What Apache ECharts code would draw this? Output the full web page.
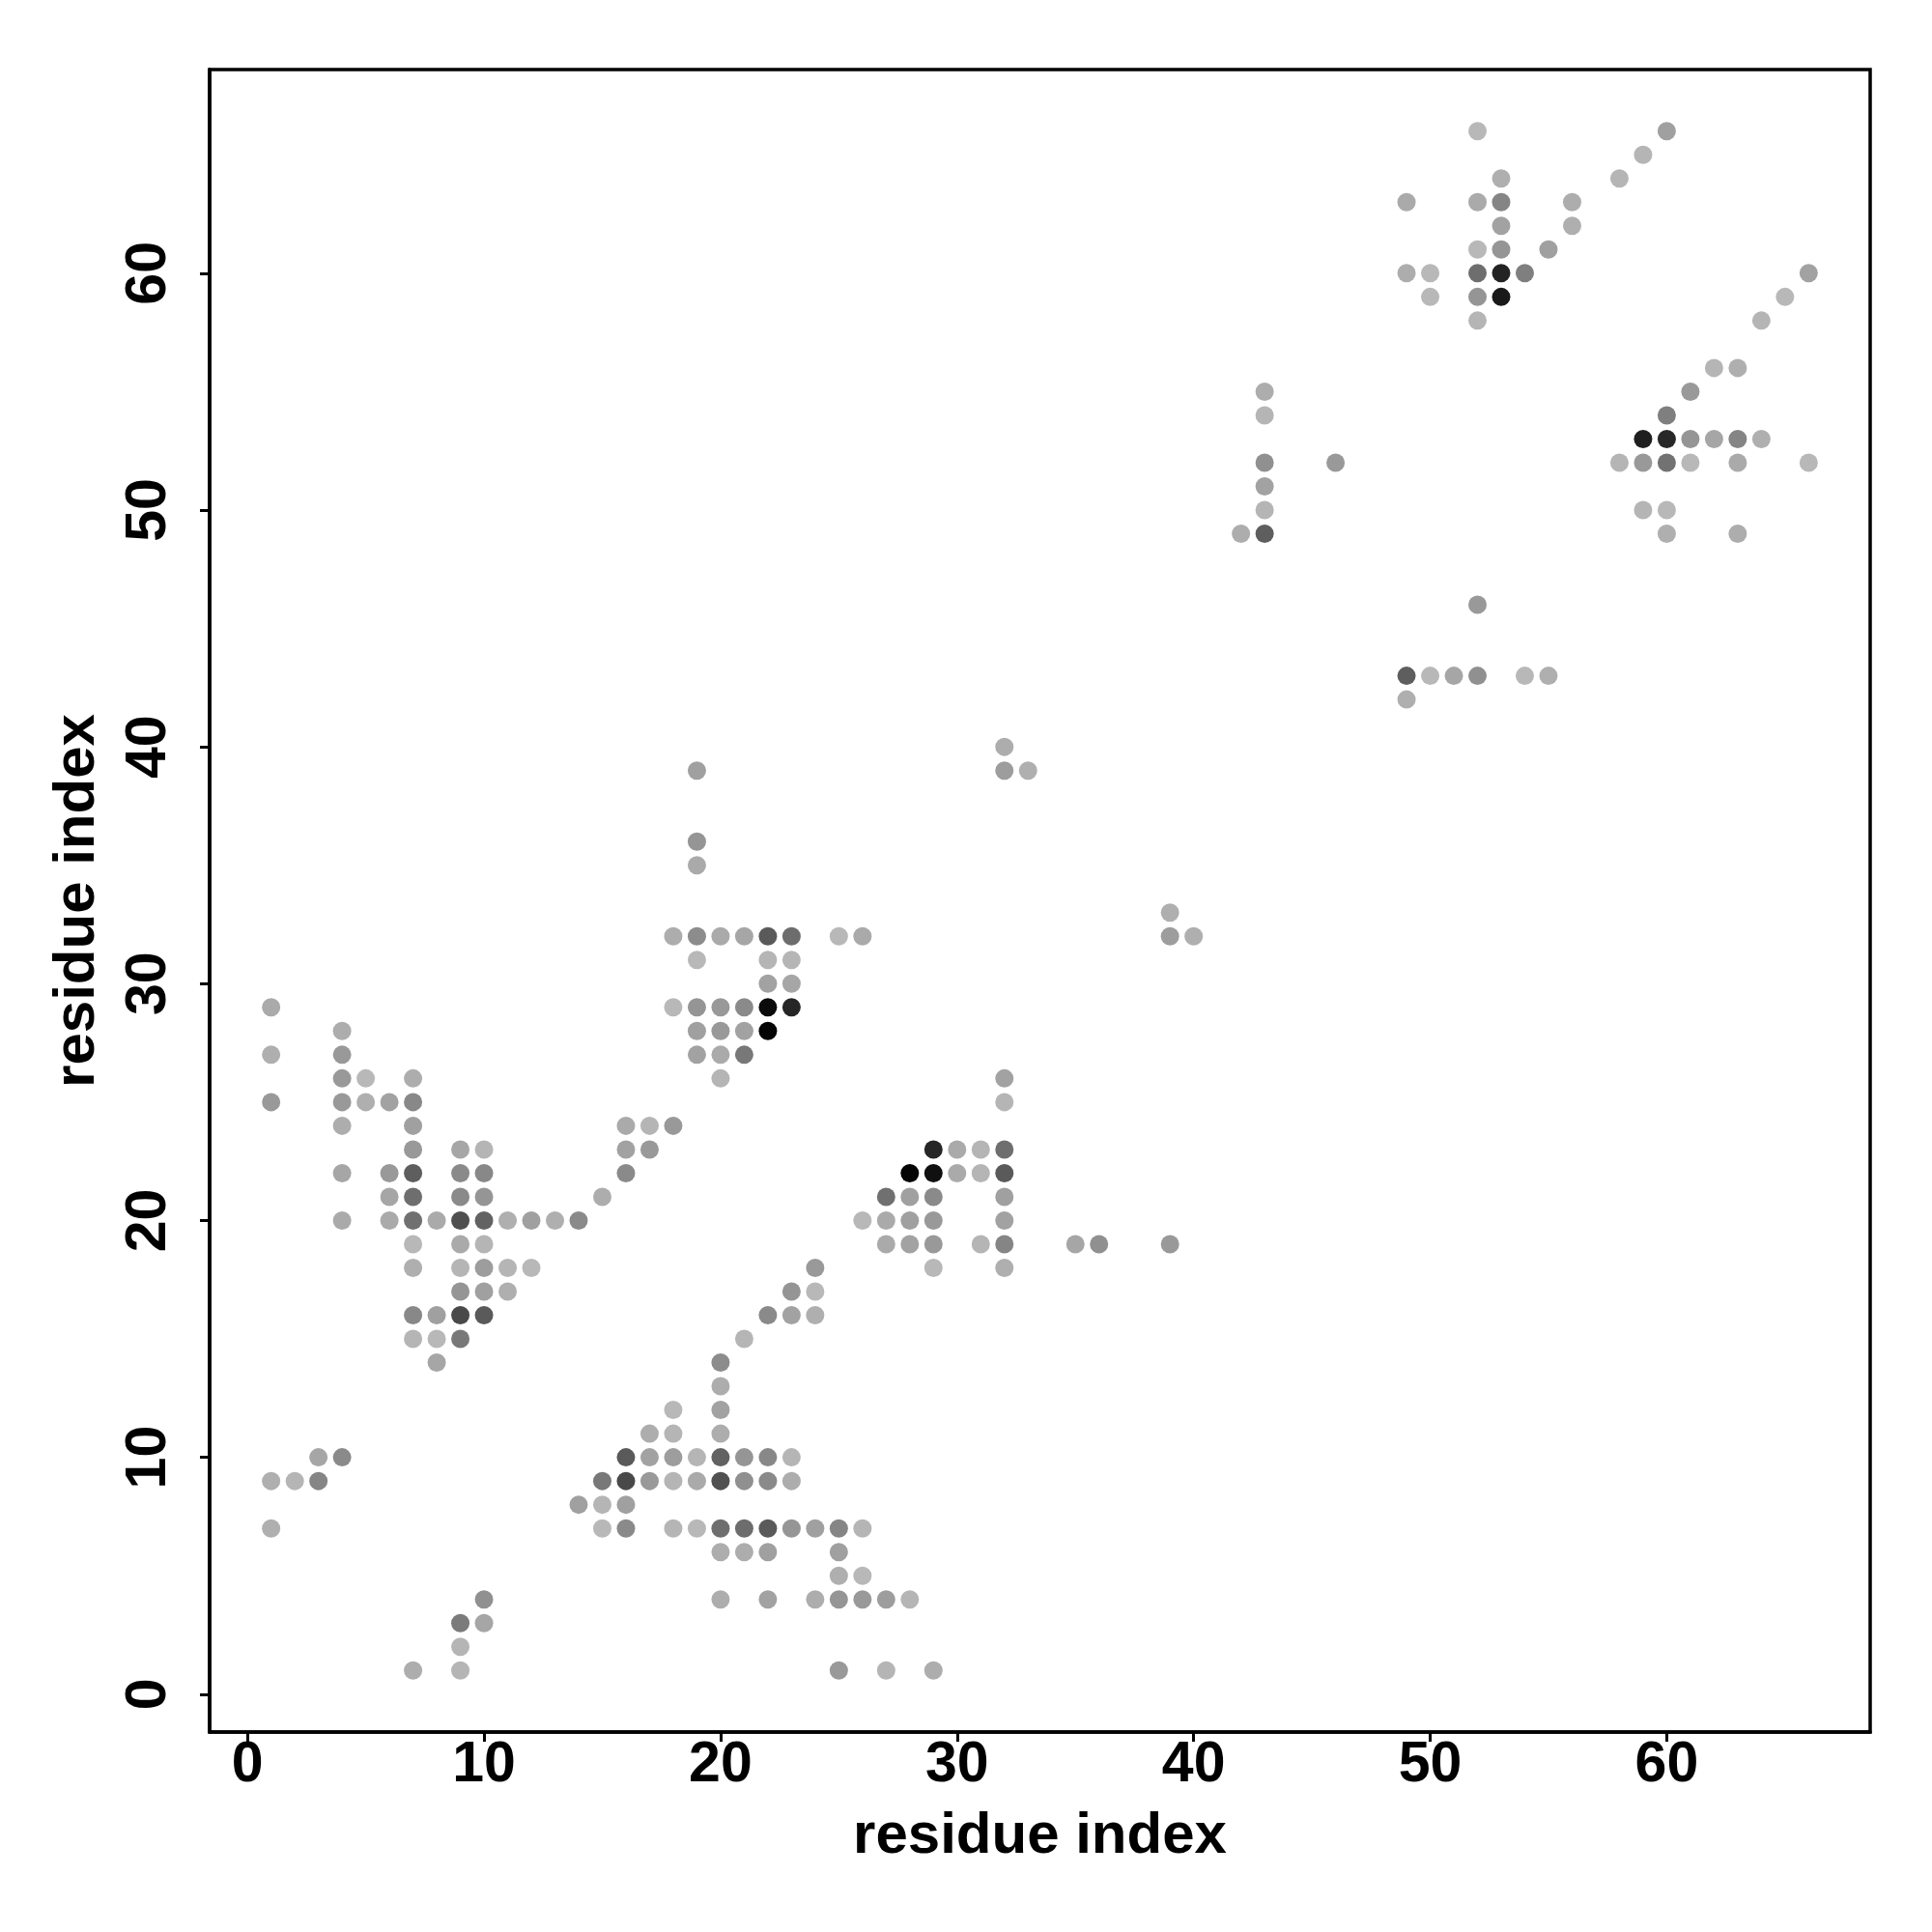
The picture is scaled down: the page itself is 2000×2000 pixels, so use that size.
<!DOCTYPE html>
<html><head><meta charset="utf-8">
<script src="https://cdn.jsdelivr.net/npm/echarts@6/dist/echarts.min.js"></script>
<style>html,body{margin:0;padding:0;background:#fff}#c{width:2000px;height:2000px}</style>
</head><body><div id="c"></div>
<script>
// tick labels (both axes)
const tickValues = [0, 10, 20, 30, 40, 50, 60];
const axisTitle = 'residue index';

// contacts: [residue i (x), residue j (y), contact strength 0..1]
const contactsLowerLeft = [
  [1,29,.11],[4,28,.09],[1,27,.08],[4,27,.20],
  [4,26,.20],[5,26,.03],[7,26,.09],
  [1,25,.20],[4,25,.20],[5,25,.08],[6,25,.15],[7,25,.29],
  [4,24,.09],[7,24,.16],
  [7,23,.20],[9,23,.13],[10,23,.05],
  [4,22,.13],[6,22,.20],[7,22,.52],[9,22,.28],[10,22,.29],
  [6,21,.13],[7,21,.43],[9,21,.28],[10,21,.22],[15,21,.09],
  [4,20,.11],[6,20,.11],[7,20,.42],[8,20,.11],[9,20,.60],[10,20,.50],[11,20,.08],[12,20,.16],[13,20,.08],[14,20,.28],
  [7,19,.03],[9,19,.11],[10,19,.05],
  [7,18,.08],[9,18,.05],[10,18,.18],[11,18,.05],[12,18,.03],
  [9,17,.22],[10,17,.16],[11,17,.08],
  [7,16,.29],[8,16,.16],[9,16,.63],[10,16,.54],
  [7,15,.05],[8,15,.03],[9,15,.38],
  [8,14,.13],
  [16,22,.28],[16,23,.15],[17,23,.20],[16,24,.11],[17,24,.05],[18,24,.20]
];
const contactsBottomLeft = [
  [3,10,.13],[4,10,.28],[1,9,.08],[2,9,.05],[3,9,.31],[1,7,.08],
  [10,4,.25],[9,3,.36],[10,3,.13],[9,2,.05],[7,1,.09],[9,1,.05]
];
const contactsBottomMiddle = [
  [14,8,.16],[15,8,.05],[16,8,.16],
  [15,9,.38],[16,9,.63],[17,9,.20],[18,9,.05],[19,9,.11],[20,9,.59],[21,9,.25],[22,9,.28],[23,9,.09],
  [16,10,.54],[17,10,.15],[18,10,.18],[19,10,.05],[20,10,.50],[21,10,.22],[22,10,.29],[23,10,.05],
  [17,11,.09],[18,11,.05],[20,11,.09],
  [18,12,.03],[20,12,.15],[20,13,.09],[20,14,.27],[21,15,.05],
  [22,16,.28],[23,16,.15],[24,16,.08],[23,17,.22],[24,17,.03],[24,18,.20],
  [15,7,.03],[16,7,.28],[18,7,.05],[19,7,.03],[20,7,.43],[21,7,.44],[22,7,.54],[23,7,.22],[24,7,.16],[25,7,.31],[26,7,.05],
  [20,6,.09],[21,6,.09],[22,6,.16],[25,6,.16],
  [25,5,.08],[26,5,.03],
  [20,4,.09],[22,4,.15],[24,4,.09],[25,4,.22],[26,4,.20],[27,4,.18],[28,4,.05],
  [25,1,.20],[27,1,.05],[29,1,.09]
];
const contactsMiddleUpper = [
  [19,39,.16],[19,36,.22],[19,35,.11],
  [18,32,.09],[19,32,.27],[20,32,.11],[21,32,.13],[22,32,.54],[23,32,.44],[25,32,.03],[26,32,.11],
  [19,31,.03],[22,31,.05],[23,31,.05],
  [22,30,.15],[23,30,.13],
  [18,29,.03],[19,29,.22],[20,29,.20],[21,29,.28],[22,29,.97],[23,29,.82],
  [19,28,.16],[20,28,.20],[21,28,.15],[22,28,1.0],
  [19,27,.15],[20,27,.11],[21,27,.38],
  [20,26,.05]
];
const contactsMiddleRight = [
  [29,23,.82],[30,23,.11],[31,23,.05],[32,23,.43],
  [28,22,1.0],[29,22,.94],[30,22,.11],[31,22,.05],[32,22,.54],
  [27,21,.42],[28,21,.16],[29,21,.28],[32,21,.16],
  [26,20,.03],[27,20,.11],[28,20,.16],[29,20,.20],[32,20,.15],
  [27,19,.11],[28,19,.15],[29,19,.20],[31,19,.05],[32,19,.31],[35,19,.13],[36,19,.25],[39,19,.20],
  [29,18,.03],[32,18,.08],
  [32,26,.15],[32,25,.05],
  [32,40,.09],[32,39,.18],[33,39,.08],
  [39,33,.08],[39,32,.18],[40,32,.08]
];
const contactsUpperRight = [
  [52,66,.03],[53,64,.08],
  [49,63,.11],[52,63,.11],[53,63,.31],[56,63,.09],
  [53,62,.15],[56,62,.08],
  [52,61,.03],[53,61,.22],[55,61,.16],
  [49,60,.09],[50,60,.03],[52,60,.43],[53,60,.84],[54,60,.34],[66,60,.15],
  [50,59,.03],[52,59,.22],[53,59,.89],[65,59,.03],
  [52,58,.05],[64,58,.05],
  [58,64,.05],[59,65,.05],[60,66,.16],
  [43,55,.09],[43,54,.05],[43,52,.25],[46,52,.20],[43,51,.15],[43,50,.05],[42,49,.09],[43,49,.52],
  [52,46,.20],
  [49,43,.52],[50,43,.03],[51,43,.13],[52,43,.25],[54,43,.03],[55,43,.08],
  [49,42,.08],
  [62,56,.05],[63,56,.08],[61,55,.20],[60,54,.34],
  [59,53,.86],[60,53,.81],[61,53,.22],[62,53,.13],[63,53,.31],[64,53,.08],
  [58,52,.05],[59,52,.20],[60,52,.41],[61,52,.03],[63,52,.11],[66,52,.03],
  [59,50,.05],[60,50,.03],[60,49,.08],[63,49,.09]
];

const allContacts = [].concat(contactsLowerLeft, contactsBottomLeft, contactsBottomMiddle,
  contactsMiddleUpper, contactsMiddleRight, contactsUpperRight);

const FONT = 'Liberation Sans, Arial, Helvetica, sans-serif';
function makeAxis(isY) {
  return {
    type: 'value',
    min: -1.6, max: 68.6,
    name: axisTitle,
    nameLocation: 'middle',
    nameGap: isY ? 107 : 78,
    nameTextStyle: { fontSize: 60, fontWeight: 'bold', color: '#000', fontFamily: FONT },
    axisLine: { show: true, onZero: false, lineStyle: { color: '#000', width: 3.5 } },
    axisTick: { show: true, inside: false, length: 10, customValues: tickValues,
      lineStyle: { color: '#000', width: 3 } },
    axisLabel: { customValues: tickValues, fontSize: 59, fontWeight: 'bold', color: '#000',
      fontFamily: FONT, margin: isY ? 33 : 5, rotate: isY ? 90 : 0 },
    splitLine: { show: false }
  };
}

const chart = echarts.init(document.getElementById('c'), null, { renderer: 'canvas' });
chart.setOption({
  animation: false,
  backgroundColor: '#fff',
  grid: { left: 217, right: 64, top: 72, bottom: 207, show: true,
    borderColor: '#000', borderWidth: 3.5, backgroundColor: 'transparent' },
  xAxis: makeAxis(false),
  yAxis: makeAxis(true),
  visualMap: { show: false, type: 'continuous', dimension: 2, min: 0, max: 1,
    inRange: { color: ['#bebebe', '#050505'] } },
  series: [{
    type: 'scatter',
    data: allContacts,
    symbol: 'circle',
    symbolSize: 19,
    itemStyle: { opacity: 1 }
  }]
});
</script>
</body></html>
